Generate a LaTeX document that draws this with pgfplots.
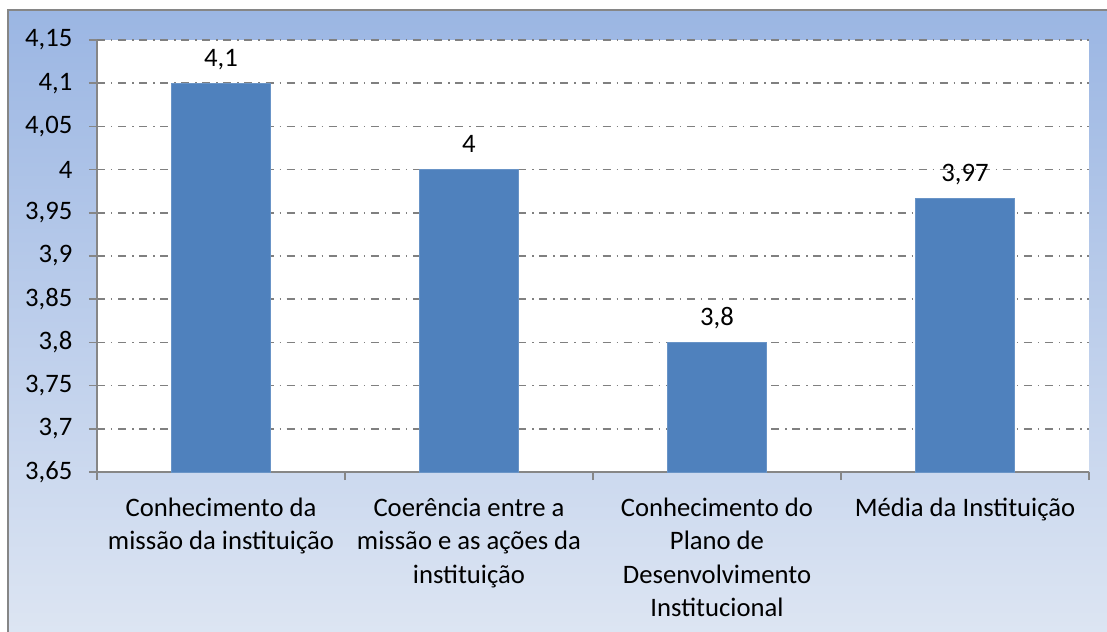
\documentclass[border=0pt]{standalone}
\usepackage{fontspec}
\setmainfont{Carlito}
\usepackage{pgfplots}
\pgfplotsset{compat=1.18}
\definecolor{barblue}{RGB}{79,129,189}
\definecolor{bgtop}{RGB}{155,182,227}
\definecolor{bgbot}{RGB}{222,230,243}
\definecolor{axgray}{RGB}{134,134,134}
\definecolor{gridgray}{RGB}{128,128,128}
\begin{document}
\begin{tikzpicture}
\useasboundingbox (0,0) rectangle (830.25pt,474pt);
\begin{scope}
\clip (0,0) rectangle (830.25pt,474pt);
\shade[top color=bgtop, bottom color=bgbot] (6pt,-10pt) rectangle (850pt,466.5pt);
\draw[axgray, line width=1.5pt] (6pt,-10pt) -- (6pt,466.5pt) -- (850pt,466.5pt);
\end{scope}
\begin{axis}[
  at={(72.75pt,120pt)}, anchor=south west,
  scale only axis, width=744pt, height=324pt,
  xmin=-0.5, xmax=3.5, ymin=3.65, ymax=4.15,
  axis lines=left, axis line style={-, draw=axgray, line width=1.3pt},
  axis background/.style={fill=white},
  ybar, bar width=74.25pt,
  ytick={3.65,3.7,3.75,3.8,3.85,3.9,3.95,4,4.05,4.1,4.15},
  yticklabels={3{,}65,3{,}7,3{,}75,3{,}8,3{,}85,3{,}9,3{,}95,4,4{,}05,4{,}1,4{,}15},
  xtick={0,1,2,3},
  xticklabels={{Conhecimento da\\missão da instituição},{Coerência entre a\\missão e as ações da\\instituição},{Conhecimento do\\Plano de\\Desenvolvimento\\Institucional},{Média da Instituição}},
  minor xtick={-0.5,0.5,1.5,2.5,3.5},
  major x tick style={draw=none},
  minor x tick style={draw=axgray, line width=1.3pt},
  ytick style={draw=axgray, line width=1.3pt},
  tick align=outside, major tick length=6pt, minor tick length=6pt,
  ymajorgrids, grid style={draw=gridgray, line width=1.2pt, dash pattern=on 6pt off 4.5pt on 1.1pt off 4.2pt},
  tick label style={font=\fontsize{20}{25}\selectfont, text=black},
  x tick label style={align=center, yshift=-10pt},
  y tick label style={xshift=-9pt},
  nodes near coords={\pgfmathprintnumber[use comma,precision=2,assume math mode=true]{\pgfplotspointmeta}},
  every node near coord/.append style={font=\fontsize{20}{25}\selectfont, text=black, anchor=base, inner sep=0pt, yshift=12.5pt},
  clip=false,
]
\addplot[fill=barblue, draw=barblue!85!white, line width=0.5pt] coordinates {(0,4.1) (1,4) (2,3.8) (3,3.9667)};
\end{axis}
\end{tikzpicture}
\end{document}
